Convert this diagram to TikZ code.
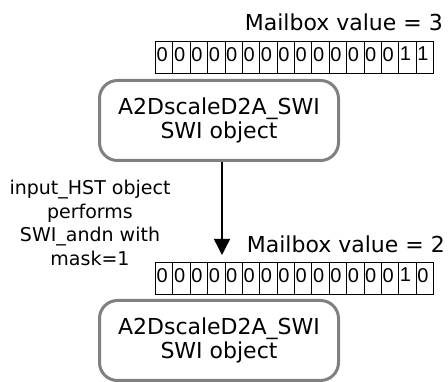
\documentclass[tikz,border=0pt]{standalone}
\usepackage{fontspec}
\setmainfont{DejaVu Sans}
\newfontfamily\bitfont{Liberation Sans}
\usetikzlibrary{arrows.meta}
\definecolor{boxgray}{RGB}{128,128,128}

\begin{document}
\begin{tikzpicture}[x=1pt,y=-1pt,
		bitcell/.style={draw=black, line width=1pt, anchor=north west, minimum width=17.375pt, minimum height=32pt, inner sep=0pt},
		bitnum/.style={anchor=north west, inner sep=0pt, font=\bitfont\fontsize{20}{20}\selectfont},
		swibox/.style={draw=boxgray, line width=3pt, rounded corners=18pt, minimum width=239pt, minimum height=80pt, align=center, font=\fontsize{22}{24}\selectfont},
		mailbox/.style={anchor=base east, inner sep=0pt, font=\fontsize{22}{24}\selectfont},
		note/.style={anchor=north, inner sep=0pt, align=center, font=\fontsize{19}{23.5}\selectfont},
		flow/.style={line width=1.5pt, -{Triangle[length=16pt,width=16pt]}}]
			\useasboundingbox (0,0) rectangle (448,382);
			% mailbox before the post
			\node [mailbox] (mbA) at (443,31) {Mailbox value = 3};
			\foreach \b [count=\i from 0] in {0,0,0,0,0,0,0,0,0,0,0,0,0,0,1,1} {
				\node [bitcell] (bitA\i) at ({155+17.375*\i},41) {};
				\node [bitnum] at ([xshift=1.5pt,yshift=-6pt]bitA\i.north west) {\b};
			}
			\node [swibox] (swiA) at (219,120.5) {A2DscaleD2A\_SWI\\SWI object};
			% SWI_andn
			\node [note] (andn) at (90,180) {input\_HST object\\performs\\SWI\_andn with\\mask=1};
			\coordinate (tip) at (222,255);
			\draw [flow] (swiA.south -| tip) -- (tip);
			% mailbox after the post
			\node [mailbox] (mbB) at (445,253) {Mailbox value = 2};
			\foreach \b [count=\i from 0] in {0,0,0,0,0,0,0,0,0,0,0,0,0,0,1,0} {
				\node [bitcell] (bitB\i) at ({155+17.375*\i},262) {};
				\node [bitnum] at ([xshift=1.5pt,yshift=-6pt]bitB\i.north west) {\b};
			}
			\node [swibox] (swiB) at (219,340.5) {A2DscaleD2A\_SWI\\SWI object};
		\end{tikzpicture}
\end{document}
